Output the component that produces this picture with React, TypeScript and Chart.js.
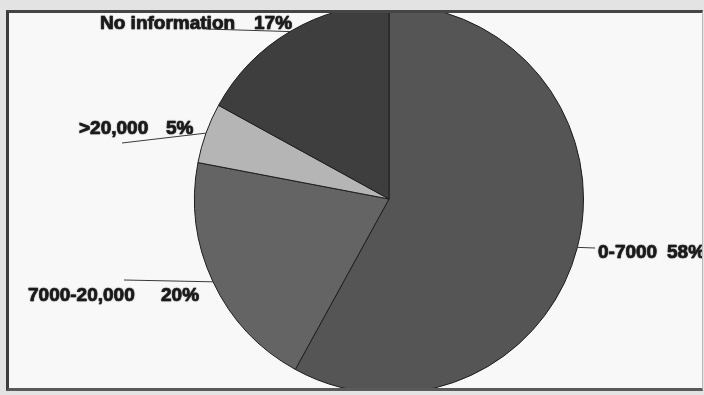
import React, { useEffect, useRef } from "react";
import { Chart, registerables } from "chart.js";

Chart.register(...registerables);

// Share of respondents by income band
const categories = ["0-7000", "7000-20,000", ">20,000", "No information"];
const shares = [58, 20, 5, 17];
const sliceColors = ["#555555", "#646464", "#b5b5b5", "#3e3e3e"];

// Where each callout's leader line ends and where its two text pieces sit
const calloutLineEnds = [
  [595, 248],
  [124, 280],
  [122, 143],
  [206, 29],
];
const calloutNameAt = [
  [598, 258],
  [28, 301],
  [79, 134],
  [100, 29],
];
const calloutPctAt = [
  [667, 258],
  [161, 301],
  [166, 134],
  [254, 29],
];

const calloutPlugin = {
  id: "callouts",
  afterDatasetsDraw(chart: any) {
    const ctx = chart.ctx as CanvasRenderingContext2D;
    const arcs = chart.getDatasetMeta(0).data;
    ctx.save();
    arcs.forEach((arc: any, i: number) => {
      const { x, y, outerRadius, startAngle, endAngle } = arc.getProps(
        ["x", "y", "outerRadius", "startAngle", "endAngle"],
        true
      );
      const mid = (startAngle + endAngle) / 2;
      const sx = x + Math.cos(mid) * outerRadius;
      const sy = y + Math.sin(mid) * outerRadius;
      const [ex, ey] = calloutLineEnds[i];
      ctx.strokeStyle = "#3a3a3a";
      ctx.lineWidth = 1;
      ctx.beginPath();
      ctx.moveTo(sx, sy);
      ctx.lineTo(ex, ey);
      ctx.stroke();

      ctx.font = 'bold 19px "Liberation Sans", Arial, sans-serif';
      ctx.fillStyle = "#1c1c1c";
      ctx.strokeStyle = "#1c1c1c";
      ctx.lineWidth = 0.7;
      ctx.lineJoin = "round";
      ctx.textBaseline = "alphabetic";
      ctx.textAlign = "left";
      ctx.shadowColor = "rgba(0,0,0,0.4)";
      ctx.shadowBlur = 1.5;
      const [nx, ny] = calloutNameAt[i];
      ctx.fillText(categories[i], nx, ny);
      ctx.strokeText(categories[i], nx, ny);
      const [px, py] = calloutPctAt[i];
      ctx.fillText(`${shares[i]}%`, px, py);
      ctx.strokeText(`${shares[i]}%`, px, py);
      ctx.shadowBlur = 0;
      ctx.shadowColor = "transparent";
    });
    ctx.restore();
  },
};

export default function App() {
  const canvasRef = useRef<HTMLCanvasElement | null>(null);

  useEffect(() => {
    if (!canvasRef.current) return;
    const chart = new Chart(canvasRef.current, {
      type: "pie",
      data: {
        labels: categories,
        datasets: [
          {
            data: shares,
            backgroundColor: sliceColors,
            borderColor: "#1e1e1e",
            borderWidth: 1,
          },
        ],
      },
      options: {
        animation: false,
        responsive: false,
        events: [],
        layout: { padding: { left: 193, right: 119, top: 4, bottom: 1 } },
        plugins: {
          legend: { display: false },
          tooltip: { enabled: false },
        },
      },
      plugins: [calloutPlugin],
    });
    return () => chart.destroy();
  }, []);

  return (
    <div
      style={{
        position: "fixed",
        left: 0,
        top: 0,
        width: 704,
        height: 395,
        background: "#e3e3e3",
        overflow: "hidden",
      }}
    >
      <div
        style={{
          position: "absolute",
          left: 6,
          top: 10,
          width: 697 - 4,
          height: 381 - 6,
          borderLeft: "3px solid #3c3c3c",
          borderTop: "3px solid #454545",
          borderBottom: "3px solid #5a5a5a",
          borderRight: "1px solid #b8b8b8",
          background: "#f8f8f8",
          overflow: "hidden",
        }}
      >
        <canvas
          ref={canvasRef}
          width={704}
          height={395}
          style={{ position: "absolute", left: -9, top: -13, width: 704, height: 395 }}
        />
      </div>
    </div>
  );
}
